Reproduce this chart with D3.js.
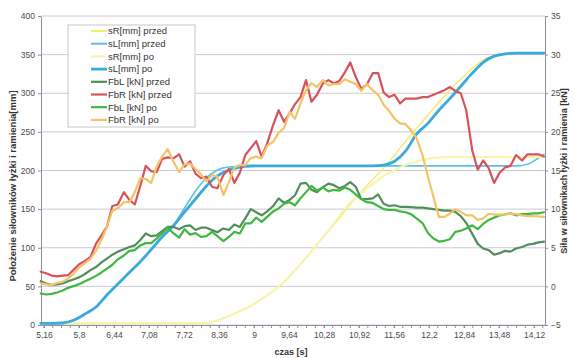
<!DOCTYPE html>
<html>
<head>
<meta charset="utf-8">
<script src="https://cdn.jsdelivr.net/npm/d3@7"></script>
<style>
  body { margin: 0; background: #fff; }
  svg { display: block; font-family: "Liberation Sans", Arial, sans-serif; }
</style>
</head>
<body>
<svg id="chart" width="574" height="358"></svg>
<script>
// time samples [s] for the force curves
const tForce = [5.10, 5.20, 5.30, 5.40, 5.50, 5.60, 5.71, 5.81, 5.91, 6.01,
  6.11, 6.21, 6.31, 6.41, 6.51, 6.62, 6.72, 6.82, 6.92, 7.02,
  7.12, 7.22, 7.32, 7.42, 7.53, 7.63, 7.73, 7.83, 7.93, 8.03,
  8.13, 8.23, 8.33, 8.44, 8.54, 8.64, 8.74, 8.84, 8.94, 9.04,
  9.14, 9.24, 9.35, 9.45, 9.55, 9.65, 9.75, 9.85, 9.95, 10.05,
  10.15, 10.26, 10.36, 10.46, 10.56, 10.66, 10.76, 10.86, 10.96, 11.06,
  11.17, 11.27, 11.37, 11.47, 11.57, 11.67, 11.77, 11.87, 11.97, 12.08,
  12.18, 12.28, 12.38, 12.48, 12.58, 12.68, 12.78, 12.88, 12.99, 13.09,
  13.19, 13.29, 13.39, 13.49, 13.59, 13.69, 13.79, 13.90, 14.00, 14.10,
  14.20, 14.30];

// time samples [s] for the position curves
const tPos = [5.10, 5.30, 5.50, 5.71, 5.91, 6.11, 6.31, 6.51, 6.72, 6.92,
  7.12, 7.32, 7.53, 7.73, 7.93, 8.13, 8.33, 8.54, 8.74, 8.94,
  9.14, 9.35, 9.55, 9.75, 9.95, 10.15, 10.36, 10.56, 10.76, 10.96,
  11.17, 11.37, 11.57, 11.77, 11.97, 12.18, 12.38, 12.58, 12.78, 12.99,
  13.19, 13.39, 13.59, 13.79, 14.00, 14.20, 14.30];

// positions [mm]
const sRprzed = [2.5, 2.5, 2.5, 2.5, 2.5, 2.5, 2.5, 2.5, 2.5, 2.5,
  2.5, 2.5, 2.5, 2.5, 2.5, 2.5, 5.8, 11.7, 18, 24.6,
  33.7, 44, 55.7, 71.2, 86.7, 104.2, 121.7, 138.5, 156, 172.2,
  188.3, 203.2, 220, 237.5, 254.6, 271.8, 288, 304.2, 318.4, 332,
  343, 348.9, 351.5, 352, 352, 352, 352];
const sLprzed = [2.2, 2.2, 2.6, 6.5, 14.2, 23.3, 38.8, 53.1, 68, 81.9,
  97.7, 113.9, 129.4, 151.5, 173.5, 190.3, 200.6, 204.5, 205.2, 206,
  206, 206, 206, 206, 206, 206, 206, 206, 206, 206,
  206, 206, 206, 206, 206, 206, 206, 206, 206, 206,
  206, 206, 206, 206, 208, 216, 221];
const sRpo = [2.5, 2.5, 2.5, 2.5, 2.5, 2.5, 2.5, 2.5, 2.5, 2.5,
  2.5, 2.5, 2.5, 2.5, 2.5, 2.5, 5.8, 11.7, 18, 24.6,
  33.7, 44, 55.7, 71.2, 86.7, 104.2, 121.7, 141, 158, 171,
  182.5, 193, 200.6, 207, 211.7, 215, 216.8, 217.5, 217.5, 217.5,
  217.5, 217.5, 217.5, 217.5, 217.5, 217.5, 217.5];
const sLpo = [2.2, 2.2, 2.6, 6.5, 14.2, 23.3, 38.8, 53.1, 68, 81.9,
  97.7, 113.9, 128.8, 146.3, 163.1, 179.9, 192.9, 200.6, 204.5, 205.8,
  206, 206, 206, 206, 206, 206, 206, 206, 206, 206,
  206, 207, 212, 225, 247, 261, 278, 293, 309, 326,
  340, 348, 351, 352, 352, 352, 352];

// forces [kN]
const FbLprzed = [0.67, 0.38, 0.16, 0.25, 0.38, 0.67, 0.93, 1.2, 1.6, 2.1,
  2.5, 3.1, 3.6, 4.1, 4.5, 4.8, 5.1, 5.3, 6.0, 6.85,
  6.5, 6.6, 7.15, 7.7, 7.7, 7.4, 7.8, 7.9, 7.3, 7.6,
  7.6, 7.3, 7.0, 7.5, 7.3, 8.0, 7.7, 8.8, 10.0, 9.6,
  9.2, 9.7, 10.4, 11.4, 10.8, 11.2, 11.8, 13.3, 13.4, 12.5,
  12.2, 12.85, 13.3, 13.1, 12.7, 13.0, 13.5, 12.9, 11.3, 11.3,
  11.4, 11.9, 10.7, 10.4, 10.5, 10.3, 10.3, 10.25, 10.2, 10.2,
  10.1, 10.0, 9.9, 9.8, 9.8, 9.65, 9.1, 8.2, 6.8, 5.5,
  4.9, 4.7, 4.1, 4.3, 4.6, 4.5, 4.9, 5.1, 5.4, 5.5,
  5.7, 5.8];
const FbRprzed = [1.9, 1.7, 1.4, 1.3, 1.4, 1.45, 2.2, 2.9, 3.3, 3.8,
  5.5, 6.6, 7.7, 10.4, 10.6, 12.2, 11.2, 10.6, 13.0, 15.6,
  14.9, 14.8, 16.5, 16.7, 16.6, 17.1, 15.5, 16.2, 14.6, 14.0,
  14.2, 12.9, 12.7, 14.4, 15.2, 13.4, 14.7, 17.0, 17.9, 18.8,
  16.8, 18.5, 20.9, 22.8, 21.3, 22.4, 23.6, 24.5, 26.7, 23.9,
  24.8, 26.3, 26.7, 26.3, 26.6, 27.7, 29.0, 27.1, 25.6, 26.1,
  27.6, 27.6, 25.1, 24.5, 24.8, 23.7, 24.3, 24.3, 24.3, 24.5,
  24.5, 24.8, 25.1, 25.4, 25.8, 25.3, 25.0, 22.8, 17.6, 15.1,
  16.3, 15.3, 13.4, 14.7, 15.4, 15.6, 17.0, 16.3, 17.1, 17.1,
  17.1, 16.8];
const FbLpo = [-0.92, -1.05, -0.97, -0.79, -0.53, -0.19, 0.06, 0.32, 0.67, 1.0,
  1.36, 1.8, 2.3, 2.8, 3.5, 4.0, 4.6, 4.7, 5.3, 5.6,
  5.6, 6.2, 6.85, 7.6, 6.85, 6.3, 7.4, 6.7, 6.9, 6.4,
  6.5, 7.06, 6.5, 5.85, 6.4, 7.06, 6.85, 8.15, 8.15, 8.9,
  8.35, 9.0, 9.7, 10.1, 10.7, 10.9, 10.5, 11.4, 12.2, 13.0,
  12.4, 12.8, 12.3, 12.5, 12.4, 12.8, 12.5, 11.9, 11.3, 10.9,
  10.8, 10.4, 10.0, 9.9, 9.9, 9.7, 9.6, 9.35, 8.8, 8.2,
  6.9, 6.2, 5.8, 5.9, 6.1, 7.06, 7.2, 7.5, 7.9, 7.4,
  8.1, 8.6, 8.9, 9.2, 9.3, 9.45, 9.2, 9.35, 9.35, 9.45,
  9.45, 9.6];
const FbRpo = [0.38, 0.25, 0.16, 0.45, 0.58, 1.0, 1.7, 2.5, 3.0, 3.6,
  4.6, 6.0, 7.7, 9.8, 10.1, 10.9, 10.9, 12.2, 14.0, 13.9,
  13.4, 15.5, 16.8, 17.8, 16.1, 14.8, 15.8, 15.9, 15.2, 14.5,
  13.6, 14.4, 14.2, 11.8, 13.5, 15.4, 15.7, 15.7, 16.6, 16.8,
  16.6, 18.2, 18.7, 19.9, 20.5, 22.6, 21.7, 23.7, 25.4, 26.3,
  25.8, 26.7, 26.0, 26.2, 26.2, 26.8, 26.5, 26.2, 25.3, 26.2,
  25.4, 24.8, 23.5, 22.7, 21.7, 21.1, 21.0, 20.2, 19.2, 17.0,
  14.2, 11.6, 9.0, 9.0, 9.4, 10.0, 9.65, 9.2, 9.2, 8.6,
  8.8, 9.4, 9.3, 9.3, 9.3, 9.4, 9.35, 9.2, 9.1, 9.1,
  9.05, 9.0];

// axis ticks
const xTicks = [5.16, 5.8, 6.44, 7.08, 7.72, 8.36, 9, 9.64, 10.28, 10.92, 11.56, 12.2, 12.84, 13.48, 14.12];
const leftTicks = [0, 50, 100, 150, 200, 250, 300, 350, 400];
const rightTicks = [-5, 0, 5, 10, 15, 20, 25, 30, 35];

const series = [
  { name: "sR[mm] przed", t: tPos, v: sRprzed, axis: "L", color: "#f2ec6e", w: 1.4, curve: d3.curveMonotoneX },
  { name: "sL[mm] przed", t: tPos, v: sLprzed, axis: "L", color: "#5cbfe9", w: 1.6, curve: d3.curveMonotoneX },
  { name: "sR[mm] po", t: tPos, v: sRpo, axis: "L", color: "#f7f5ac", w: 2.2, curve: d3.curveMonotoneX },
  { name: "sL[mm] po", t: tPos, v: sLpo, axis: "L", color: "#3aaadd", w: 2.8, curve: d3.curveMonotoneX },
  { name: "FbL [kN] przed", t: tForce, v: FbLprzed, axis: "R", color: "#508e5b", w: 2.2, curve: d3.curveLinear },
  { name: "FbR [kN] przed", t: tForce, v: FbRprzed, axis: "R", color: "#d8525c", w: 2.2, curve: d3.curveLinear },
  { name: "FbL [kN] po", t: tForce, v: FbLpo, axis: "R", color: "#3fb83f", w: 2.2, curve: d3.curveLinear },
  { name: "FbR [kN] po", t: tForce, v: FbRpo, axis: "R", color: "#f2c466", w: 2.2, curve: d3.curveLinear }
];

const svg = d3.select("#chart");
const plot = { left: 41, right: 545, top: 16, bottom: 325 };

const x = d3.scaleLinear().domain([5.105, 14.32]).range([plot.left, plot.right]);
const yL = d3.scaleLinear().domain([0, 400]).range([plot.bottom, plot.top]);
const yR = d3.scaleLinear().domain([-5, 35]).range([plot.bottom, plot.top]);

// gridlines
svg.append("g").selectAll("line").data(leftTicks).join("line")
  .attr("x1", plot.left).attr("x2", plot.right)
  .attr("y1", d => yL(d)).attr("y2", d => yL(d))
  .attr("stroke", "#cacad4").attr("stroke-width", 1);

const fmt = d => String(d).replace(".", ",");

function styleAxis(g) {
  g.select(".domain").attr("stroke", "#8e8e9e");
  g.selectAll(".tick line").attr("stroke", "#8e8e9e");
  g.selectAll(".tick text").attr("fill", "#4a4a4a").style("font-size", "8.5px");
}

svg.append("g")
  .attr("transform", `translate(${plot.left},0)`)
  .call(d3.axisLeft(yL).tickValues(leftTicks).tickSize(3).tickSizeOuter(0).tickPadding(3))
  .call(styleAxis);

svg.append("g")
  .attr("transform", `translate(${plot.right},0)`)
  .call(d3.axisRight(yR).tickValues(rightTicks).tickSize(3).tickSizeOuter(0).tickPadding(3))
  .call(styleAxis);

const xAxis = svg.append("g")
  .attr("transform", `translate(0,${plot.bottom})`)
  .call(d3.axisBottom(x).tickValues(xTicks).tickFormat(fmt).tickSize(3).tickSizeOuter(0).tickPadding(4))
  .call(styleAxis);

// minor ticks every 0.16 s
xAxis.append("g").selectAll("line")
  .data(d3.range(5.16, 14.32, 0.16))
  .join("line")
  .attr("x1", d => x(d)).attr("x2", d => x(d))
  .attr("y1", 0).attr("y2", 3)
  .attr("stroke", "#8e8e9e");

// series
for (const s of series) {
  const y = s.axis === "L" ? yL : yR;
  const pts = s.t.map((t, i) => [t, s.v[i]]);
  svg.append("path")
    .datum(pts)
    .attr("fill", "none")
    .attr("stroke", s.color)
    .attr("stroke-width", s.w)
    .attr("stroke-linejoin", "round")
    .attr("stroke-linecap", "round")
    .attr("d", d3.line().curve(s.curve).x(d => x(d[0])).y(d => y(d[1])));
}

// axis titles
svg.append("text")
  .attr("transform", "translate(16,186) rotate(-90)")
  .attr("text-anchor", "middle")
  .style("font-size", "9.5px").style("font-weight", "bold").attr("fill", "#333")
  .text("Położenie siłowników łyżki i ramienia[mm]");

svg.append("text")
  .attr("transform", "translate(567,171) rotate(-90)")
  .attr("text-anchor", "middle")
  .style("font-size", "9px").style("font-weight", "bold").attr("fill", "#333")
  .text("Siła w siłownikach łyżki i ramienia [kN]");

svg.append("text")
  .attr("x", 291).attr("y", 355)
  .attr("text-anchor", "middle")
  .style("font-size", "9px").style("font-weight", "bold").attr("fill", "#333")
  .text("czas [s]");

// legend
const lg = svg.append("g");
lg.append("rect")
  .attr("x", 68).attr("y", 25).attr("width", 127).attr("height", 102)
  .attr("fill", "#fff").attr("stroke", "#c8c8cc");
series.forEach((s, i) => {
  const yy = 31 + i * 12.7;
  lg.append("line")
    .attr("x1", 91).attr("x2", 107).attr("y1", yy).attr("y2", yy)
    .attr("stroke", s.color).attr("stroke-width", Math.max(2, s.w));
  lg.append("text")
    .attr("x", 108).attr("y", yy).attr("dy", "0.35em")
    .style("font-size", "9.5px").attr("fill", "#333")
    .text(s.name);
});
</script>
</body>
</html>
